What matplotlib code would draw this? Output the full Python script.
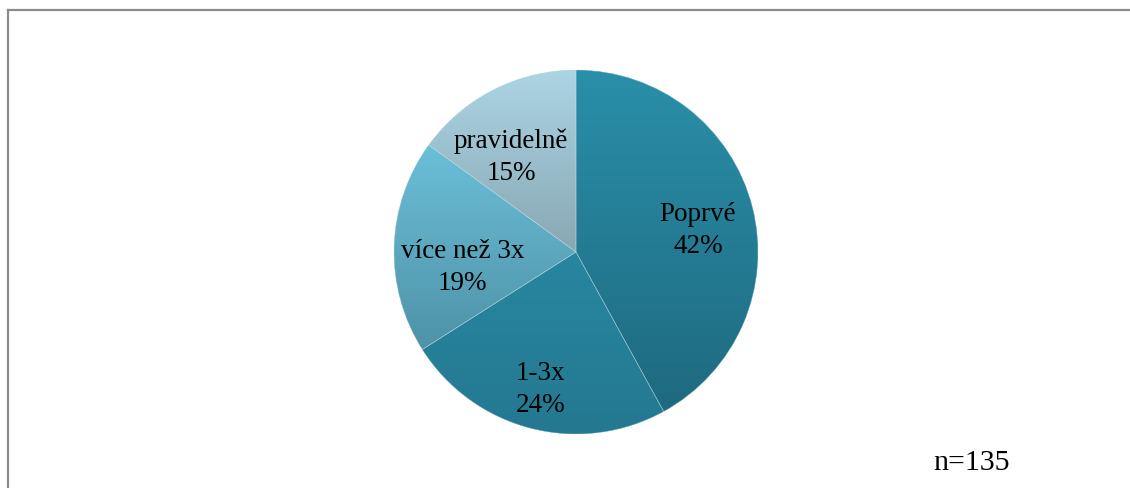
import numpy as np
import matplotlib
matplotlib.use('Agg')
import matplotlib.pyplot as plt
from matplotlib.colors import LinearSegmentedColormap

# data
labels = ['Poprvé', '1-3x', 'více než 3x', 'pravidelně']
shares = [42, 24, 19, 15]
n_total = 135

# gradient colours (top, bottom) per slice
grad_top = ['#2a8fa9', '#2886a0', '#6bbfd9', '#acd5e3']
grad_bot = ['#1e6a80', '#247890', '#4e92a6', '#88a7b3']
# label placement (fraction of radius, angle offset in deg)
lab_r = [0.68, 0.78, 0.63, 0.63]
lab_da = [-4.5, 0.0, 9.5, 7.5]

plt.rcParams['font.family'] = ['Liberation Serif', 'DejaVu Serif']

fig = plt.figure(figsize=(11.3, 4.88), dpi=100)
ax = fig.add_axes([394/1130, 54/488, 364/1130, 364/488])

wedges, _ = ax.pie(shares, startangle=90, counterclock=False, radius=1,
                   colors=grad_top,
                   wedgeprops=dict(edgecolor='none', linewidth=0))

for i, w in enumerate(wedges):
    # vertical gradient clipped to the wedge
    verts = w.get_path().vertices
    tr = w.get_patch_transform()
    pts = tr.transform(verts)
    y0, y1 = pts[:, 1].min(), pts[:, 1].max()
    cmap = LinearSegmentedColormap.from_list('g%d' % i, [grad_bot[i], grad_top[i]])
    grad = np.linspace(0, 1, 256).reshape(-1, 1)
    im = ax.imshow(grad, cmap=cmap, origin='lower', aspect='auto',
                   extent=[-1, 1, y0, y1], zorder=w.get_zorder() + 0.1)
    im.set_clip_path(w)

    ang = np.deg2rad((w.theta1 + w.theta2) / 2.0 + lab_da[i])
    r = lab_r[i]
    ax.text(r*np.cos(ang), r*np.sin(ang), '%s\n%d%%' % (labels[i], shares[i]),
            ha='center', va='center', fontsize=19.5, linespacing=1.35,
            color='black', zorder=5)

# faint separator lines on top of gradients
for w in wedges:
    ax.add_patch(plt.matplotlib.patches.Wedge(w.center, w.r, w.theta1, w.theta2,
                                              fill=False, edgecolor='#c9dfe7',
                                              linewidth=0.4, alpha=0.6, zorder=4))

ax.set_xlim(-1, 1)
ax.set_ylim(-1, 1)
ax.set_aspect('equal')
ax.axis('off')

fig.text(972/1130, 1 - 463/488, 'n=%d' % n_total, ha='center', va='center',
         fontsize=21.5)

# chart frame (left and top edges visible)
fig.add_artist(plt.Line2D([8/1130, 8/1130], [0, 1 - 10/488], color='#8c8c8c',
                          linewidth=1.6, transform=fig.transFigure))
fig.add_artist(plt.Line2D([8/1130, 1], [1 - 10/488, 1 - 10/488], color='#8c8c8c',
                          linewidth=1.6, transform=fig.transFigure))

fig.savefig('out.png', dpi=100)
